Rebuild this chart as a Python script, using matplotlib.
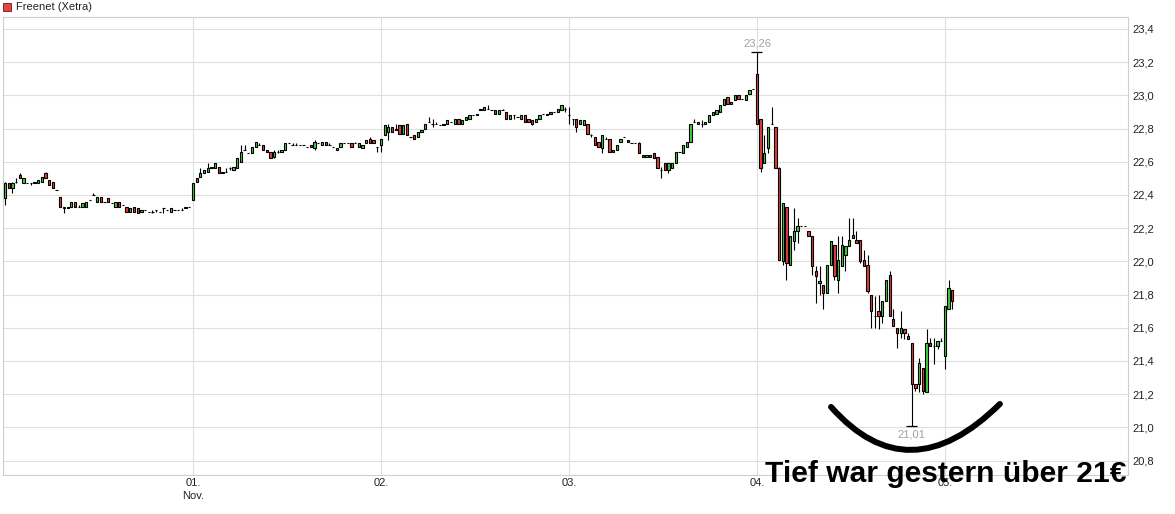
import matplotlib
matplotlib.use("Agg")
import matplotlib.pyplot as plt
from matplotlib.patches import Rectangle, PathPatch
from matplotlib.path import Path
import numpy as np

plt.rcParams['font.family'] = ['Liberation Sans', 'DejaVu Sans']

# Freenet (Xetra), 10-minute candles, 51 per trading day
day_labels = ['01.\nNov.', '02.', '03.', '04.', '05.']
bars_per_day = 51

opens = [
    # first day
    22.38, 22.47, 22.44, 22.48, 22.52, 22.47, 22.47, 22.47, 22.47, 22.47, 22.48, 22.53, 22.49, 22.48, 22.43, 22.39, 22.33,
    22.32, 22.33, 22.36, 22.33, 22.33, 22.33, 22.37, 22.40, 22.36, 22.39, 22.36, 22.38, 22.35, 22.33, 22.36, 22.34, 22.33,
    22.30, 22.33, 22.32, 22.30, 22.31, 22.30, 22.30, 22.31, 22.30, 22.32, 22.31, 22.30, 22.31, 22.31, 22.31, 22.32, 22.33,
    # 01. Nov
    22.37, 22.50, 22.51, 22.53, 22.54, 22.57, 22.56, 22.57, 22.53, 22.54, 22.56, 22.55, 22.56, 22.60, 22.67, 22.65, 22.65,
    22.69, 22.70, 22.70, 22.67, 22.66, 22.63, 22.66, 22.66, 22.67, 22.71, 22.70, 22.70, 22.70, 22.70, 22.69, 22.70, 22.68,
    22.71, 22.70, 22.72, 22.70, 22.69, 22.67, 22.69, 22.71, 22.71, 22.71, 22.71, 22.69, 22.68, 22.71, 22.74, 22.73, 22.69,
    # 02.
    22.70, 22.76, 22.78, 22.81, 22.79, 22.82, 22.77, 22.83, 22.75, 22.76, 22.75, 22.78, 22.80, 22.84, 22.83, 22.83, 22.82,
    22.82, 22.83, 22.84, 22.83, 22.86, 22.83, 22.85, 22.86, 22.88, 22.88, 22.91, 22.91, 22.92, 22.91, 22.91, 22.89, 22.91,
    22.90, 22.86, 22.88, 22.87, 22.86, 22.88, 22.86, 22.85, 22.84, 22.86, 22.89, 22.88, 22.90, 22.90, 22.90, 22.91, 22.92,
    # 03.
    22.88, 22.86, 22.86, 22.83, 22.82, 22.83, 22.76, 22.75, 22.72, 22.68, 22.74, 22.74, 22.66, 22.67, 22.72, 22.75, 22.73,
    22.71, 22.71, 22.71, 22.64, 22.63, 22.63, 22.65, 22.63, 22.55, 22.59, 22.55, 22.56, 22.59, 22.66, 22.65, 22.69, 22.72,
    22.84, 22.84, 22.83, 22.83, 22.84, 22.88, 22.89, 22.90, 22.94, 22.99, 22.95, 22.97, 23.00, 22.98, 22.97, 23.01, 23.04,
    # 04.
    23.13, 22.86, 22.59, 22.68, 22.83, 22.81, 22.56, 22.00, 22.33, 21.98, 22.12, 22.18, 22.21, 22.21, 22.18, 22.15, 21.94,
    21.87, 21.86, 21.81, 21.98, 22.10, 21.89, 21.97, 22.04, 22.09, 22.16, 22.13, 22.13, 22.01, 21.98, 21.80, 21.67, 21.70,
    21.67, 21.76, 21.92, 21.65, 21.60, 21.57, 21.59, 21.55, 21.51, 21.26, 21.26, 21.36, 21.21, 21.51, 21.49, 21.49, 21.52,
    # 05.
    21.43, 21.71, 21.83,
]
highs = [
    22.48, 22.47, 22.48, 22.50, 22.53, 22.50, 22.47, 22.47, 22.48, 22.49, 22.51, 22.54, 22.49, 22.48, 22.43, 22.39, 22.33,
    22.33, 22.36, 22.36, 22.34, 22.35, 22.36, 22.37, 22.41, 22.39, 22.39, 22.36, 22.38, 22.35, 22.36, 22.36, 22.34, 22.33,
    22.32, 22.33, 22.32, 22.31, 22.31, 22.30, 22.31, 22.31, 22.30, 22.32, 22.31, 22.32, 22.31, 22.31, 22.32, 22.33, 22.33,
    22.47, 22.50, 22.56, 22.55, 22.59, 22.57, 22.59, 22.57, 22.54, 22.56, 22.57, 22.57, 22.62, 22.70, 22.70, 22.65, 22.69,
    22.72, 22.71, 22.70, 22.67, 22.66, 22.67, 22.67, 22.67, 22.71, 22.71, 22.71, 22.71, 22.70, 22.70, 22.69, 22.70, 22.73,
    22.71, 22.72, 22.72, 22.71, 22.69, 22.68, 22.71, 22.71, 22.71, 22.71, 22.72, 22.71, 22.70, 22.73, 22.75, 22.73, 22.69,
    22.74, 22.82, 22.83, 22.81, 22.83, 22.82, 22.82, 22.83, 22.75, 22.76, 22.78, 22.79, 22.83, 22.87, 22.86, 22.84, 22.82,
    22.83, 22.85, 22.84, 22.86, 22.86, 22.85, 22.87, 22.88, 22.88, 22.89, 22.92, 22.93, 22.94, 22.91, 22.91, 22.91, 22.92,
    22.90, 22.88, 22.88, 22.87, 22.88, 22.88, 22.86, 22.85, 22.86, 22.88, 22.89, 22.89, 22.90, 22.90, 22.92, 22.94, 22.93,
    22.93, 22.86, 22.86, 22.85, 22.85, 22.83, 22.77, 22.75, 22.72, 22.76, 22.75, 22.74, 22.67, 22.70, 22.74, 22.75, 22.73,
    22.71, 22.71, 22.72, 22.64, 22.64, 22.64, 22.65, 22.63, 22.57, 22.59, 22.59, 22.59, 22.66, 22.66, 22.70, 22.72, 22.83,
    22.86, 22.84, 22.85, 22.84, 22.88, 22.90, 22.91, 22.94, 22.98, 22.99, 22.96, 23.00, 23.00, 22.98, 23.00, 23.03, 23.04,
    23.26, 22.86, 22.76, 22.81, 22.93, 22.81, 22.57, 22.35, 22.33, 22.15, 22.32, 22.26, 22.21, 22.21, 22.18, 22.15, 21.97,
    21.97, 21.86, 21.98, 22.12, 22.10, 22.15, 22.15, 22.09, 22.26, 22.26, 22.18, 22.13, 22.07, 22.04, 21.80, 21.79, 21.80,
    21.76, 21.89, 21.94, 21.71, 21.60, 21.70, 21.59, 21.57, 21.51, 21.26, 21.42, 21.36, 21.59, 21.54, 21.54, 21.52, 21.54,
    21.73, 21.89, 21.83,
]
lows = [
    22.34, 22.44, 22.41, 22.47, 22.50, 22.47, 22.47, 22.46, 22.47, 22.47, 22.48, 22.50, 22.46, 22.44, 22.43, 22.33, 22.29,
    22.32, 22.33, 22.33, 22.33, 22.33, 22.33, 22.37, 22.40, 22.36, 22.36, 22.36, 22.36, 22.35, 22.33, 22.33, 22.34, 22.30,
    22.30, 22.30, 22.29, 22.30, 22.31, 22.30, 22.29, 22.30, 22.30, 22.29, 22.31, 22.30, 22.31, 22.31, 22.31, 22.32, 22.33,
    22.37, 22.48, 22.51, 22.53, 22.54, 22.56, 22.56, 22.53, 22.53, 22.54, 22.55, 22.55, 22.56, 22.60, 22.67, 22.65, 22.65,
    22.69, 22.70, 22.67, 22.66, 22.62, 22.62, 22.65, 22.66, 22.67, 22.71, 22.70, 22.70, 22.70, 22.70, 22.69, 22.69, 22.67,
    22.71, 22.70, 22.70, 22.70, 22.69, 22.67, 22.69, 22.71, 22.71, 22.69, 22.71, 22.69, 22.68, 22.71, 22.71, 22.71, 22.66,
    22.66, 22.76, 22.73, 22.78, 22.79, 22.77, 22.77, 22.76, 22.75, 22.74, 22.75, 22.78, 22.80, 22.84, 22.81, 22.83, 22.82,
    22.82, 22.83, 22.84, 22.83, 22.83, 22.83, 22.85, 22.86, 22.88, 22.88, 22.91, 22.91, 22.92, 22.91, 22.89, 22.89, 22.91,
    22.86, 22.86, 22.86, 22.87, 22.86, 22.84, 22.84, 22.82, 22.84, 22.86, 22.89, 22.88, 22.89, 22.90, 22.90, 22.91, 22.90,
    22.83, 22.82, 22.78, 22.83, 22.82, 22.77, 22.75, 22.70, 22.69, 22.65, 22.74, 22.66, 22.66, 22.67, 22.72, 22.75, 22.72,
    22.71, 22.71, 22.65, 22.63, 22.63, 22.63, 22.62, 22.56, 22.50, 22.55, 22.53, 22.56, 22.59, 22.66, 22.65, 22.69, 22.72,
    22.84, 22.83, 22.81, 22.83, 22.84, 22.88, 22.89, 22.90, 22.94, 22.95, 22.95, 22.97, 22.98, 22.98, 22.97, 23.01, 23.04,
    22.83, 22.54, 22.59, 22.65, 22.83, 22.56, 22.01, 21.98, 21.89, 21.98, 22.07, 22.11, 22.21, 22.21, 22.15, 21.92, 21.75,
    21.80, 21.71, 21.81, 21.98, 21.89, 21.81, 21.97, 21.94, 22.09, 22.14, 22.11, 21.99, 21.97, 21.81, 21.60, 21.60, 21.59,
    21.63, 21.76, 21.67, 21.61, 21.48, 21.54, 21.53, 21.53, 21.01, 21.22, 21.21, 21.20, 21.21, 21.49, 21.38, 21.47, 21.52,
    21.35, 21.71, 21.71,
]
closes = [
    22.47, 22.44, 22.47, 22.48, 22.50, 22.50, 22.47, 22.47, 22.48, 22.49, 22.51, 22.50, 22.46, 22.44, 22.43, 22.33, 22.32,
    22.33, 22.36, 22.33, 22.33, 22.35, 22.36, 22.37, 22.40, 22.39, 22.36, 22.36, 22.36, 22.35, 22.36, 22.33, 22.34, 22.30,
    22.32, 22.30, 22.29, 22.31, 22.31, 22.30, 22.30, 22.31, 22.30, 22.32, 22.31, 22.32, 22.31, 22.31, 22.31, 22.33, 22.33,
    22.47, 22.48, 22.53, 22.55, 22.56, 22.56, 22.59, 22.53, 22.54, 22.54, 22.56, 22.57, 22.62, 22.66, 22.67, 22.65, 22.69,
    22.72, 22.70, 22.67, 22.66, 22.62, 22.66, 22.66, 22.67, 22.71, 22.71, 22.70, 22.70, 22.70, 22.70, 22.69, 22.69, 22.72,
    22.71, 22.72, 22.70, 22.70, 22.69, 22.68, 22.71, 22.71, 22.71, 22.69, 22.71, 22.71, 22.70, 22.73, 22.71, 22.71, 22.69,
    22.74, 22.82, 22.81, 22.78, 22.80, 22.77, 22.82, 22.76, 22.75, 22.74, 22.78, 22.79, 22.83, 22.84, 22.83, 22.83, 22.82,
    22.83, 22.85, 22.84, 22.86, 22.83, 22.85, 22.87, 22.88, 22.88, 22.89, 22.92, 22.93, 22.92, 22.91, 22.89, 22.91, 22.91,
    22.86, 22.88, 22.88, 22.87, 22.88, 22.84, 22.84, 22.83, 22.86, 22.88, 22.89, 22.89, 22.89, 22.90, 22.92, 22.94, 22.92,
    22.88, 22.86, 22.81, 22.85, 22.85, 22.77, 22.76, 22.70, 22.69, 22.76, 22.74, 22.66, 22.67, 22.70, 22.74, 22.75, 22.72,
    22.71, 22.71, 22.65, 22.63, 22.64, 22.64, 22.62, 22.56, 22.55, 22.55, 22.59, 22.59, 22.66, 22.66, 22.70, 22.72, 22.83,
    22.84, 22.83, 22.83, 22.84, 22.88, 22.90, 22.91, 22.94, 22.98, 22.95, 22.96, 23.00, 22.98, 22.98, 23.00, 23.03, 23.04,
    22.83, 22.56, 22.65, 22.81, 22.83, 22.56, 22.01, 22.35, 21.99, 22.15, 22.18, 22.21, 22.21, 22.21, 22.15, 21.97, 21.91,
    21.88, 21.81, 21.98, 22.12, 21.91, 22.01, 22.10, 22.09, 22.13, 22.14, 22.11, 22.00, 21.97, 21.82, 21.70, 21.67, 21.67,
    21.76, 21.89, 21.67, 21.61, 21.57, 21.60, 21.57, 21.53, 21.26, 21.24, 21.39, 21.22, 21.51, 21.49, 21.49, 21.52, 21.52,
    21.73, 21.84, 21.76,
]

o = np.array(opens)
h = np.array(highs)
l = np.array(lows)
c = np.array(closes)
x = np.arange(len(o))

W, H = 1175, 514
fig = plt.figure(figsize=(W / 100, H / 100), dpi=100)
ax = fig.add_axes([3 / W, 39 / H, 1125 / W, 458 / H])

up_color = '#3cd23c'
down_color = '#e43c3c'
colors = np.where(c > o, up_color, np.where(c < o, down_color, 'black'))

# wicks first, bodies on top
ax.vlines(x, l, h, color='black', linewidth=0.8, zorder=2)
ax.bar(x, np.abs(c - o), bottom=np.minimum(o, c), width=0.62,
       color=colors, edgecolor='black', linewidth=0.8, zorder=3)

# mark high and low of the period
i_hi = int(np.argmax(h))
i_lo = int(np.argmin(l))
ax.hlines(h[i_hi], i_hi - 1.5, i_hi + 1.5, color='black', linewidth=0.9, zorder=4)
ax.hlines(l[i_lo], i_lo - 1.5, i_lo + 1.5, color='black', linewidth=0.9, zorder=4)
ax.annotate(f'{h[i_hi]:.2f}'.replace('.', ','), (i_hi, h[i_hi]), xytext=(0, 3),
            textcoords='offset points', ha='center', va='bottom', fontsize=8, color='#a0a0a0')
ax.annotate(f'{l[i_lo]:.2f}'.replace('.', ','), (i_lo, l[i_lo]), xytext=(0, -3),
            textcoords='offset points', ha='center', va='top', fontsize=8, color='#a0a0a0')

# axes styling
ax.set_xlim(-0.54, 304.66)
ax.set_ylim(20.713, 23.472)
yt = np.arange(20.8, 23.41, 0.2)
ax.set_yticks(yt)
ax.set_yticklabels([f'{v:.1f}'.replace('.', ',') for v in yt])
ax.yaxis.tick_right()
day_starts = [bars_per_day * (k + 1) for k in range(len(day_labels))]
ax.set_xticks(day_starts)
ax.set_xticklabels(day_labels)
for lbl in ax.get_xticklabels():
    lbl.set_linespacing(1.35)
ax.tick_params(axis='y', length=0, pad=3.5, labelsize=8, labelcolor='#222222')
ax.tick_params(axis='x', length=0, pad=2.5, labelsize=8, labelcolor='#222222')
ax.grid(True, color='#dedede', linewidth=0.8, zorder=0)
ax.set_axisbelow(True)
for s in ax.spines.values():
    s.set_color('#cfcfcf')
    s.set_linewidth(0.8)

# hand drawn "smile" under the low
p0 = (224.1, 21.123)
p1 = (245.1, 20.596)
p2 = (269.9, 21.141)
smile = Path([p0, p1, p2], [Path.MOVETO, Path.CURVE3, Path.CURVE3])
ax.add_patch(PathPatch(smile, facecolor='none', edgecolor='black', linewidth=4.3,
                       capstyle='round', zorder=6, clip_on=False))

fig.text(765 / W, 1 - 482 / H, 'Tief war gestern über 21€', fontsize=21.6,
         fontweight='bold', ha='left', va='baseline', color='black', zorder=10)

# series legend top left
fig.patches.append(Rectangle((3 / W, 1 - 11 / H), 8 / W, 8 / H, transform=fig.transFigure,
                             facecolor='#e84343', edgecolor='#6b1a1a', linewidth=0.6))
fig.text(16 / W, 1 - 7 / H, 'Freenet (Xetra)', fontsize=8, va='center', ha='left', color='#222222')

fig.savefig('out.png', dpi=100)
